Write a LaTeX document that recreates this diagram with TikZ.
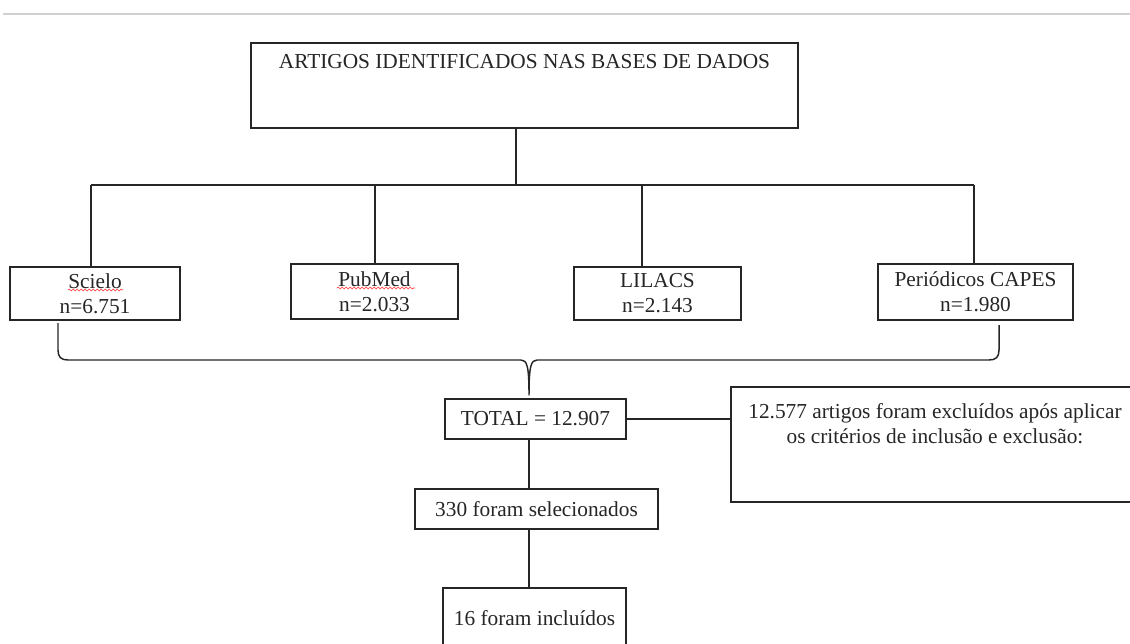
\documentclass[tikz,border=0pt]{standalone}
\usepackage{fontspec}
\setmainfont{Liberation Serif}
\usetikzlibrary{decorations.pathmorphing}
\begin{document}
\begin{tikzpicture}[x=0.75pt,y=-0.75pt,
  every node/.style={text=black!85},
  box/.style={draw=black!85, line width=1.1pt, inner sep=0pt, align=center,
    font=\fontsize{16}{18.75}\selectfont},
  txt/.style={inner sep=0pt, align=center, font=\fontsize{16}{18.75}\selectfont},
  conn/.style={draw=black!85, line width=1.1pt},
  squig/.style={draw=red!80, line width=0.45pt, decorate,
    decoration={snake, amplitude=0.7pt, segment length=3pt}}]
\useasboundingbox (0,0) rectangle (1130,643);
\clip (0,0) rectangle (1130,643);
\fill[white] (0,0) rectangle (1130,643);
% top gray rule
\draw[black!18, line width=2.2pt] (3,14) -- (1130,14);

% nodes
\node[box, line width=2.2pt, minimum width=547*0.75pt, minimum height=85*0.75pt] (top) at (524.5,85.5) {};
\node[txt] (toptext) at (524.5,62) {ARTIGOS IDENTIFICADOS NAS BASES DE DADOS};

\node[box, minimum width=170*0.75pt, minimum height=53*0.75pt] (scielo) at (95,293.5) {Scielo\\n=6.751};
\node[box, minimum width=167*0.75pt, minimum height=55*0.75pt] (pubmed) at (374.5,291.5) {PubMed\\n=2.033};
\node[box, minimum width=167*0.75pt, minimum height=53*0.75pt] (lilacs) at (657.5,293.5) {LILACS\\n=2.143};
\node[box, minimum width=195*0.75pt, minimum height=56*0.75pt] (capes) at (975.5,292) {Periódicos CAPES\\n=1.980};

\node[box, minimum width=181*0.75pt, minimum height=40*0.75pt] (total) at (535.5,419) {TOTAL = 12.907};
\node[box, minimum width=408*0.75pt, minimum height=115*0.75pt] (excl) at (935,444.5) {};
\node[txt] (excltext) at (935,423.5) {12.577 artigos foram excluídos após aplicar\\os critérios de inclusão e exclusão:};
\node[box, minimum width=243*0.75pt, minimum height=40*0.75pt] (sel) at (536.5,509) {330 foram selecionados};
\node[box, minimum width=183*0.75pt, minimum height=60*0.75pt] (inc) at (534.5,618) {16 foram incluídos};

% spell-check squiggles
\draw[squig] (68,290) -- (123,290);
\draw[squig] (337,288) -- (415,288);

% tree connectors
\coordinate (bus) at (516,185);
\coordinate (busL) at (91,185);
\coordinate (busR) at (974,185);
\coordinate (pubx) at (375,185);
\coordinate (lilx) at (642,185);
\coordinate (stem) at (529,0);
\draw[conn] (top.south -| bus) -- (bus);
\draw[conn] (busL) -- (busR);
\draw[conn] (busL) -- (scielo.north -| busL);
\draw[conn] (pubx) -- (pubmed.north -| pubx);
\draw[conn] (lilx) -- (lilacs.north -| lilx);
\draw[conn] (busR) -- (capes.north -| busR);

% brace
\coordinate (bl) at (58,323);
\coordinate (br) at (999,325);
\coordinate (tip) at (529,395);
\draw[conn, line join=round]
  (bl) -- (58,350) .. controls (58,357) and (61,360) .. (68,360)
  -- (521,360) .. controls (527,360) and (529,366) .. (tip)
  .. controls (529,366) and (531,360) .. (537,360)
  -- (989,360) .. controls (996,360) and (999,357) .. (999,350) -- (br);

% lower connectors
\draw[conn] (total.east) -- (total.east -| excl.west);
\draw[conn] (total.south -| stem) -- (sel.north -| stem);
\draw[conn] (sel.south -| stem) -- (inc.north -| stem);
\end{tikzpicture}
\end{document}
